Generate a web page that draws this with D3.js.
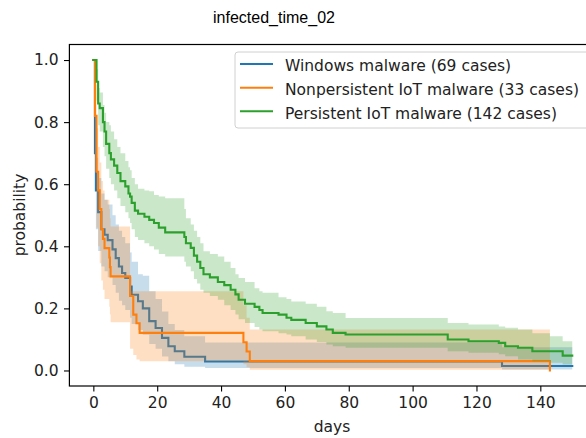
<!DOCTYPE html>
<html>
<head>
<meta charset="utf-8">
<script src="https://cdn.jsdelivr.net/npm/d3@7"></script>
<style>
  html, body { margin: 0; padding: 0; background: #fff; }
  svg { display: block; }
</style>
</head>
<body>
<script>
// ---------------- DATA ----------------
const chartTitle = "infected_time_02";
const xLabel = "days";
const yLabel = "probability";
const xTicks = [0, 20, 40, 60, 80, 100, 120, 140];
const yTicks = [0.0, 0.2, 0.4, 0.6, 0.8, 1.0];

const seriesNames = ["Windows malware (69 cases)", "Nonpersistent IoT malware (33 cases)", "Persistent IoT malware (142 cases)"];
const seriesColors = ["#1f77b4", "#ff7f0e", "#2ca02c"];

const windowsTimes = [0, 0.5, 0.8, 1.5, 2.5, 3.5, 4.5, 6, 7, 8, 9, 10, 11.5, 12, 14, 15.5, 17.5, 19.5, 21.5, 23.5, 25.5, 28.5, 35, 128];
const windowsSurv  = [1, 0.70, 0.58, 0.51, 0.455, 0.437, 0.42, 0.39, 0.362, 0.335, 0.314, 0.298, 0.27, 0.244, 0.223, 0.20, 0.159, 0.137, 0.105, 0.078, 0.062, 0.044, 0.029, 0.0145];
const windowsLower = [1, 0.58, 0.455, 0.385, 0.335, 0.32, 0.30, 0.275, 0.25, 0.225, 0.21, 0.195, 0.17, 0.15, 0.13, 0.115, 0.085, 0.07, 0.045, 0.03, 0.02, 0.012, 0.008, 0.003];
const windowsUpper = [1, 0.79, 0.685, 0.62, 0.57, 0.55, 0.535, 0.50, 0.47, 0.45, 0.43, 0.41, 0.38, 0.35, 0.31, 0.305, 0.255, 0.23, 0.19, 0.15, 0.13, 0.11, 0.09, 0.075];
const windowsEnd = 150;

const nonpersTimes = [0, 0.5, 1, 1.5, 2, 2.5, 3, 3.5, 5, 5.2, 5.4, 11.5, 12.5, 13.5, 14.5, 47, 48, 49];
const nonpersSurv  = [1, 0.82, 0.64, 0.58, 0.52, 0.455, 0.424, 0.394, 0.364, 0.333, 0.303, 0.24, 0.18, 0.152, 0.121, 0.091, 0.061, 0.030];
const nonpersLower = [1, 0.64, 0.46, 0.40, 0.345, 0.29, 0.26, 0.23, 0.205, 0.18, 0.155, 0.07, 0.05, 0.035, 0.03, 0.02, 0.01, 0.002];
const nonpersUpper = [1, 0.92, 0.78, 0.72, 0.67, 0.61, 0.58, 0.55, 0.52, 0.49, 0.464, 0.255, 0.255, 0.255, 0.255, 0.21, 0.17, 0.132];
const nonpersEnd = 143;
const nonpersFinal = 0;

const persTimes = [0, 1, 1.5, 2, 3, 3.5, 4, 5, 5.5, 6.5, 7.5, 8.5, 10, 11, 11.5, 12, 13, 14, 16, 17.5, 19, 20.5, 22.5, 28.5, 29, 30.5, 31.5, 32.5, 33.5, 34.5, 36.5, 39, 41, 43, 44.5, 45.5, 47.5, 50.5, 52, 53, 58, 60.5, 62, 66.5, 70, 73, 75, 79, 111, 117.5, 127, 129, 133, 137.5, 143, 147];
const persSurv  = [1, 0.93, 0.86, 0.845, 0.80, 0.77, 0.73, 0.70, 0.68, 0.66, 0.636, 0.61, 0.593, 0.57, 0.56, 0.54, 0.515, 0.505, 0.495, 0.485, 0.475, 0.46, 0.445, 0.43, 0.41, 0.395, 0.37, 0.35, 0.33, 0.31, 0.30, 0.285, 0.275, 0.26, 0.245, 0.228, 0.215, 0.205, 0.195, 0.185, 0.18, 0.17, 0.163, 0.153, 0.142, 0.132, 0.121, 0.116, 0.10, 0.094, 0.089, 0.078, 0.073, 0.062, 0.062, 0.048];
const persLower = [1, 0.87, 0.79, 0.77, 0.72, 0.69, 0.65, 0.62, 0.60, 0.58, 0.555, 0.53, 0.51, 0.49, 0.475, 0.455, 0.43, 0.42, 0.41, 0.40, 0.39, 0.375, 0.367, 0.35, 0.335, 0.32, 0.295, 0.28, 0.26, 0.25, 0.24, 0.228, 0.21, 0.195, 0.18, 0.165, 0.153, 0.14, 0.132, 0.126, 0.12, 0.116, 0.11, 0.10, 0.092, 0.084, 0.078, 0.073, 0.062, 0.057, 0.052, 0.046, 0.035, 0.03, 0.025, 0.019];
const persUpper = [1, 0.97, 0.91, 0.895, 0.855, 0.83, 0.80, 0.79, 0.77, 0.745, 0.72, 0.70, 0.675, 0.655, 0.645, 0.62, 0.60, 0.585, 0.58, 0.577, 0.565, 0.56, 0.555, 0.52, 0.49, 0.47, 0.45, 0.43, 0.41, 0.384, 0.375, 0.367, 0.35, 0.33, 0.31, 0.298, 0.285, 0.265, 0.255, 0.25, 0.236, 0.23, 0.222, 0.215, 0.205, 0.191, 0.185, 0.169, 0.153, 0.148, 0.142, 0.138, 0.132, 0.12, 0.11, 0.094];
const persEnd = 150;

// ---------------- LAYOUT ----------------
const W = 586, H = 438;
const FONT = "'DejaVu Sans', sans-serif";
const svg = d3.select("body").append("svg").attr("width", W).attr("height", H);

const x = d3.scaleLinear().domain([-7.5, 157.5]).range([69.4, 596.2]);
const y = d3.scaleLinear().domain([-0.05, 1.05]).range([386, 44.5]);

function build(times, surv, lower, upper, end, finalVal) {
  const pts = times.map((t, i) => ({ t: t, s: surv[i], lo: lower[i], hi: upper[i] }));
  const last = pts[pts.length - 1];
  const band = pts.concat([{ t: end, s: last.s, lo: last.lo, hi: last.hi }]);
  const line = band.slice();
  if (finalVal !== undefined) line.push({ t: end, s: finalVal });
  return { band, line };
}

const series = [
  build(windowsTimes, windowsSurv, windowsLower, windowsUpper, windowsEnd),
  build(nonpersTimes, nonpersSurv, nonpersLower, nonpersUpper, nonpersEnd, nonpersFinal),
  build(persTimes, persSurv, persLower, persUpper, persEnd)
];

svg.append("defs").append("clipPath").attr("id", "clip")
  .append("rect").attr("x", x.range()[0]).attr("y", y.range()[1])
  .attr("width", x.range()[1] - x.range()[0]).attr("height", y.range()[0] - y.range()[1]);

const plot = svg.append("g").attr("clip-path", "url(#clip)");

const areaGen = d3.area().curve(d3.curveStepAfter)
  .x(d => x(d.t)).y0(d => y(d.lo)).y1(d => y(d.hi));
const lineGen = d3.line().curve(d3.curveStepAfter)
  .x(d => x(d.t)).y(d => y(d.s));

series.forEach((s, i) => {
  plot.append("path").datum(s.band).attr("d", areaGen)
    .attr("fill", seriesColors[i]).attr("fill-opacity", 0.25).attr("stroke", "none");
  plot.append("path").datum(s.line).attr("d", lineGen)
    .attr("fill", "none").attr("stroke", seriesColors[i]).attr("stroke-width", 2.1)
    .attr("stroke-linejoin", "miter").attr("stroke-linecap", "square");
});

// axes
const xAxis = d3.axisBottom(x).tickValues(xTicks).tickSize(5.4).tickPadding(5.4).tickFormat(d3.format("d"));
const yAxis = d3.axisLeft(y).tickValues(yTicks).tickSize(5.4).tickPadding(5.4).tickFormat(d3.format(".1f"));

const gx = svg.append("g").attr("transform", `translate(0,${y.range()[0]})`).call(xAxis);
const gy = svg.append("g").attr("transform", `translate(${x.range()[0]},0)`).call(yAxis);
[gx, gy].forEach(g => {
  g.select(".domain").remove();
  g.selectAll(".tick line").attr("stroke", "#000").attr("stroke-width", 1.1);
  g.selectAll(".tick text").attr("fill", "#222").style("font-family", FONT).style("font-size", "15.5px");
});

// frame (spines)
svg.append("rect")
  .attr("x", x.range()[0]).attr("y", y.range()[1])
  .attr("width", x.range()[1] - x.range()[0]).attr("height", y.range()[0] - y.range()[1])
  .attr("fill", "none").attr("stroke", "#000").attr("stroke-width", 1.2);

// labels
svg.append("text").attr("x", 332).attr("y", 432).attr("text-anchor", "middle")
  .style("font-family", FONT).style("font-size", "15.5px").attr("fill", "#222").text(xLabel);
svg.append("text").attr("transform", `translate(25,215) rotate(-90)`).attr("text-anchor", "middle")
  .style("font-family", FONT).style("font-size", "15.5px").attr("fill", "#222").text(yLabel);
svg.append("text").attr("x", 274).attr("y", 23).attr("text-anchor", "middle")
  .style("font-family", "'Liberation Sans', Arial, sans-serif").style("font-size", "16px").attr("fill", "#000").text(chartTitle);

// legend
const lg = svg.append("g");
lg.append("rect").attr("x", 235).attr("y", 52).attr("width", 380).attr("height", 76)
  .attr("rx", 3).attr("fill", "#fff").attr("fill-opacity", 0.8)
  .attr("stroke", "#d0d0d0").attr("stroke-width", 1);
const rowY = [64, 87.7, 111.3];
seriesNames.forEach((name, i) => {
  lg.append("line").attr("x1", 240).attr("x2", 273).attr("y1", rowY[i]).attr("y2", rowY[i])
    .attr("stroke", seriesColors[i]).attr("stroke-width", 2.1);
  lg.append("text").attr("x", 285).attr("y", rowY[i] + 7.3)
    .style("font-family", FONT).style("font-size", "15.5px").attr("fill", "#222").text(name);
});
</script>
</body>
</html>
